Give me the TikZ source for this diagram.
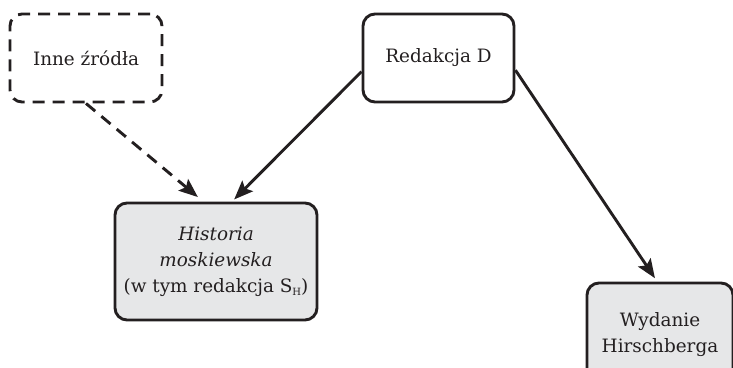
\documentclass[tikz,border=0pt]{standalone}
\usepackage{fontspec}
\setmainfont{DejaVu Serif}
\usepackage{tikz}
\usetikzlibrary{arrows.meta}
\definecolor{ink}{HTML}{231F20}
\definecolor{boxgrey}{HTML}{E6E7E8}

\begin{document}
\begin{tikzpicture}[x=0.5pt, y=-0.5pt, line width=1.45pt, draw=ink, text=ink,
  font=\fontsize{9.2}{13}\selectfont,
  main/.style = {draw=ink, rounded corners=6pt, align=center, inner sep=1pt},
  src/.style = {main, dashed, dash pattern=on 6pt off 4pt},
  result/.style = {main, fill=boxgrey},
  arr/.style = {-{Stealth[length=9.5pt, width=7.5pt, inset=1.8pt]}, ink}]
  \useasboundingbox (0,0) rectangle (733,368);

  \node[src, minimum width=76pt, minimum height=44pt] (inne) at (86,58) {Inne źródła};
  \node[main, minimum width=75.5pt, minimum height=44pt] (red) at (438.5,58) {Redakcja D};
  \node[result, minimum width=101pt, minimum height=58.5pt] (hist) at (216,261.5)
    {\textit{Historia}\\ \textit{moskiewska}\\ (w tym redakcja S\raisebox{-1.5pt}{\tiny H})};
  \node[result, minimum width=73pt, minimum height=52pt] (wyd) at (660,335) {Wydanie\\ Hirschberga};

  \draw[arr, dashed, dash pattern=on 6pt off 4pt, shorten >=3.5pt] (inne.south) -- (hist.102);
  \draw[arr, shorten >=1.5pt] (red.190) -- (hist.75);
  \draw[arr, shorten >=2pt] (red.-9) -- (wyd.93);

\end{tikzpicture}
\end{document}
